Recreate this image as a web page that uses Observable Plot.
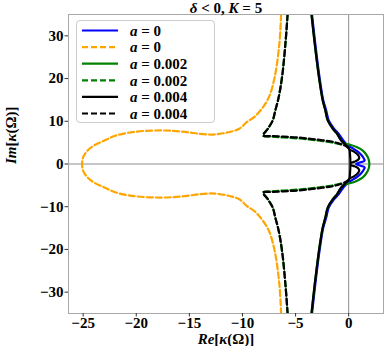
<!DOCTYPE html>
<html><head><meta charset="utf-8">
<script src="https://cdn.jsdelivr.net/npm/d3@7"></script>
<script src="https://cdn.jsdelivr.net/npm/@observablehq/plot@0.6"></script>
<style>
body{margin:0;background:#fff;}
#wrap{position:relative;width:388px;height:346px;}
#legend{position:absolute;left:76px;top:20px;width:139px;height:103px;border:1px solid #ccc;border-radius:4px;background:rgba(255,255,255,0.85);box-sizing:border-box;}
</style>
</head><body>
<div id="wrap"></div>
<script>
const xTicks = [-25, -20, -15, -10, -5, 0];
const yTicks = [-30, -20, -10, 0, 10, 20, 30];
const titleText = "δ < 0, K = 5";
const legendLabels = ["0", "0", "0.002", "0.002", "0.004", "0.004"];

// a = 0, solid (blue)
const blueX = [-3.45,-3.15,-2.75,-2.4,-2.12,-1.88,-1.38,-0.95,-0.5,-0.1,0.3,0.8,1.2,1.45,1.5,1.2,0.7,1.2,1.5,1.45,1.2,0.8,0.3,-0.1,-0.5,-0.95,-1.38,-1.88,-2.12,-2.4,-2.75,-3.15,-3.45];
const blueY = [35,28.3,20.4,15,12.6,10.2,8.3,7.1,5.5,4.4,3.8,3.0,2.1,1.2,0.8,0.45,0,-0.45,-0.8,-1.2,-2.1,-3.0,-3.8,-4.4,-5.5,-7.1,-8.3,-10.2,-12.6,-15,-20.4,-28.3,-35];

// a = 0, dashed (orange)
const orangeX = [-6.36,-6.52,-6.96,-7.5,-8.1,-8.8,-9.6,-10.3,-11.2,-12.2,-13.0,-14.0,-15.2,-16.5,-17.7,-19.2,-20.8,-22.0,-23.0,-24.0,-24.6,-25.0,-25.1,-25.0,-24.6,-24.0,-23.0,-22.0,-20.8,-19.2,-17.7,-16.5,-15.2,-14.0,-13.0,-12.2,-11.2,-10.3,-9.6,-8.8,-8.1,-7.5,-6.96,-6.52,-6.36];
const orangeY = [35,28.3,20.4,15.7,13.2,11.2,9.8,8.25,7.5,7.05,6.9,7.05,7.45,7.75,7.85,7.75,7.3,6.6,5.5,4.3,3.1,1.6,0,-1.6,-3.1,-4.3,-5.5,-6.6,-7.3,-7.75,-7.85,-7.75,-7.45,-7.05,-6.9,-7.05,-7.5,-8.25,-9.8,-11.2,-13.2,-15.7,-20.4,-28.3,-35];

// a = 0.002, solid (green)
const greenX = [-3.5,-3.2,-2.8,-2.45,-2.2,-1.97,-1.5,-1.1,-0.72,-0.4,0.2,0.8,1.3,1.6,1.85,1.95,1.85,1.6,1.3,0.8,0.2,-0.4,-0.72,-1.1,-1.5,-1.97,-2.2,-2.45,-2.8,-3.2,-3.5];
const greenY = [35,28.3,20.4,15,12.6,10.2,8.3,7.1,5.6,4.8,4.45,3.9,3.2,2.4,1.3,0,-1.3,-2.4,-3.2,-3.9,-4.45,-4.8,-5.6,-7.1,-8.3,-10.2,-12.6,-15,-20.4,-28.3,-35];

// a = 0.002, dashed (green): upper and lower branches
const greenDashTopX = [-5.75,-5.95,-6.27,-6.6,-6.9,-7.15,-7.6,-8.05,-7.2,-6.1,-4.8,-3.6,-2.6,-1.7,-1.1,-0.6];
const greenDashTopY = [35,28.3,20.4,15.5,12.6,10.2,8.3,6.6,6.4,6.2,6.0,5.7,5.4,5.1,4.8,4.5];
const greenDashBotX = [-5.75,-5.95,-6.27,-6.6,-6.9,-7.15,-7.6,-8.05,-7.2,-6.1,-4.8,-3.6,-2.6,-1.7,-1.1,-0.6];
const greenDashBotY = [-35,-28.3,-20.4,-15.5,-12.6,-10.2,-8.3,-6.6,-6.4,-6.2,-6.0,-5.7,-5.4,-5.1,-4.8,-4.5];

// a = 0.004, solid (black): main branch and two small lobes
const blackX = [-3.5,-3.2,-2.8,-2.45,-2.2,-1.97,-1.5,-1.1,-0.7,-0.3,0.05,0.12,0.12,0.05,-0.3,-0.7,-1.1,-1.5,-1.97,-2.2,-2.45,-2.8,-3.2,-3.5];
const blackY = [35,28.3,20.4,15,12.6,10.2,8.3,7.1,5.5,4.5,3.5,2.5,-2.5,-3.5,-4.5,-5.5,-7.1,-8.3,-10.2,-12.6,-15,-20.4,-28.3,-35];
const blackLobeTopX = [0.15,0.5,0.85,1.0,0.85,0.5,0.2];
const blackLobeTopY = [3.3,2.9,2.2,1.5,0.9,0.5,0.3];
const blackLobeBotX = [0.15,0.5,0.85,1.0,0.85,0.5,0.2];
const blackLobeBotY = [-3.3,-2.9,-2.2,-1.5,-0.9,-0.5,-0.3];

// a = 0.004, dashed (black): upper and lower branches
const blackDashTopX = [-5.75,-5.95,-6.27,-6.6,-6.9,-7.15,-7.6,-8.05,-7.2,-6.1,-4.8,-3.6,-2.6,-1.7,-1.1,-0.6,-0.2,0.05];
const blackDashTopY = [35,28.3,20.4,15.5,12.6,10.2,8.3,6.7,6.55,6.4,6.2,5.9,5.6,5.3,4.95,4.55,4.1,3.6];
const blackDashBotX = [-5.75,-5.95,-6.27,-6.6,-6.9,-7.15,-7.6,-8.05,-7.2,-6.1,-4.8,-3.6,-2.6,-1.7,-1.1,-0.6,-0.2,0.05];
const blackDashBotY = [-35,-28.3,-20.4,-15.5,-12.6,-10.2,-8.3,-6.7,-6.55,-6.4,-6.2,-5.9,-5.6,-5.3,-4.95,-4.55,-4.1,-3.6];

const pts = (xs, ys, seg = 0) => xs.map((x, i) => ({x, y: ys[i], seg}));

const DASH = "6,3";
const SW = 2.2;
const lineOpts = (stroke, dash) => ({x: "x", y: "y", z: "seg", stroke, strokeWidth: SW, strokeDasharray: dash, clip: true, curve: "catmull-rom"});

const FONT = "'Liberation Serif', 'DejaVu Serif', serif";

const plot = Plot.plot({
  width: 388,
  height: 346,
  marginLeft: 68,
  marginRight: 5,
  marginTop: 14,
  marginBottom: 33,
  x: {domain: [-26.38, 3.28]},
  y: {domain: [-35, 35]},
  style: {fontFamily: FONT, fontWeight: "bold", fontSize: "15px", color: "#000", background: "#fff"},
  marks: [
    Plot.ruleX([0], {stroke: "#8c8c8c", strokeWidth: 1}),
    Plot.ruleY([0], {stroke: "#8c8c8c", strokeWidth: 1}),
    Plot.line(pts(blueX, blueY), lineOpts("#0000ff", null)),
    Plot.line(pts(orangeX, orangeY), lineOpts("#ffa500", DASH)),
    Plot.line(pts(greenX, greenY), lineOpts("#008000", null)),
    Plot.line([...pts(greenDashTopX, greenDashTopY, 0), ...pts(greenDashBotX, greenDashBotY, 1)], lineOpts("#008000", DASH)),
    Plot.line([...pts(blackX, blackY, 0), ...pts(blackLobeTopX, blackLobeTopY, 1), ...pts(blackLobeBotX, blackLobeBotY, 2)], lineOpts("#000000", null)),
    Plot.line([...pts(blackDashTopX, blackDashTopY, 0), ...pts(blackDashBotX, blackDashBotY, 1)], lineOpts("#000000", DASH)),
    Plot.frame({stroke: "#a8a8a8", strokeWidth: 1}),
    Plot.axisX(xTicks, {tickSize: 3.5, tickPadding: 0.5, label: null, stroke: "#333", fontFamily: FONT}),
    Plot.axisY(yTicks, {tickSize: 3.5, tickPadding: 1.5, label: null, stroke: "#333", fontFamily: FONT}),
    Plot.text([titleText], {frameAnchor: "top", dy: -6, lineAnchor: "middle", fontSize: 15, fontWeight: "bold", fontFamily: FONT, className: "ttl"}),
    Plot.text(["Re[κ(Ω)]"], {frameAnchor: "bottom", dy: 26, lineAnchor: "middle", fontSize: 15, fontWeight: "bold", fontFamily: FONT, className: "xlab"}),
    Plot.text(["Im[κ(Ω)]"], {frameAnchor: "left", dx: -57, rotate: -90, lineAnchor: "middle", fontSize: 15, fontWeight: "bold", fontFamily: FONT, className: "ylab"})
  ]
});

document.getElementById("wrap").appendChild(plot);

function rich(selector, parts) {
  const t = d3.select(plot).select(selector + " text");
  t.text(null);
  parts.forEach(([s, it]) => t.append("tspan").attr("font-style", it ? "italic" : "normal").text(s));
}
rich(".ttl", [["δ", true], [" < 0, ", false], ["K", true], [" = 5", false]]);
rich(".xlab", [["Re", true], ["[", false], ["κ", true], ["(Ω)]", false]]);
rich(".ylab", [["Im", true], ["[", false], ["κ", true], ["(Ω)]", false]]);

// legend
const legendStyles = [
  ["#0000ff", null], ["#ffa500", DASH], ["#008000", null], ["#008000", DASH], ["#000000", null], ["#000000", DASH]
];
const leg = d3.select("#wrap").append("div").attr("id", "legend");
const lsvg = leg.append("svg").attr("width", 139).attr("height", 103).style("display", "block");
legendStyles.forEach(([c, d], i) => {
  const cy = 9.5 + i * 16.6;
  lsvg.append("line").attr("x1", 5).attr("x2", 41).attr("y1", cy).attr("y2", cy)
    .attr("stroke", c).attr("stroke-width", SW).attr("stroke-dasharray", d);
  const t = lsvg.append("text").attr("x", 53).attr("y", cy).attr("dy", "0.35em")
    .style("font-family", FONT).attr("font-weight", "bold").attr("font-size", 15);
  t.append("tspan").attr("font-style", "italic").text("a");
  t.append("tspan").text(" = " + legendLabels[i]);
});
</script>
</body></html>
